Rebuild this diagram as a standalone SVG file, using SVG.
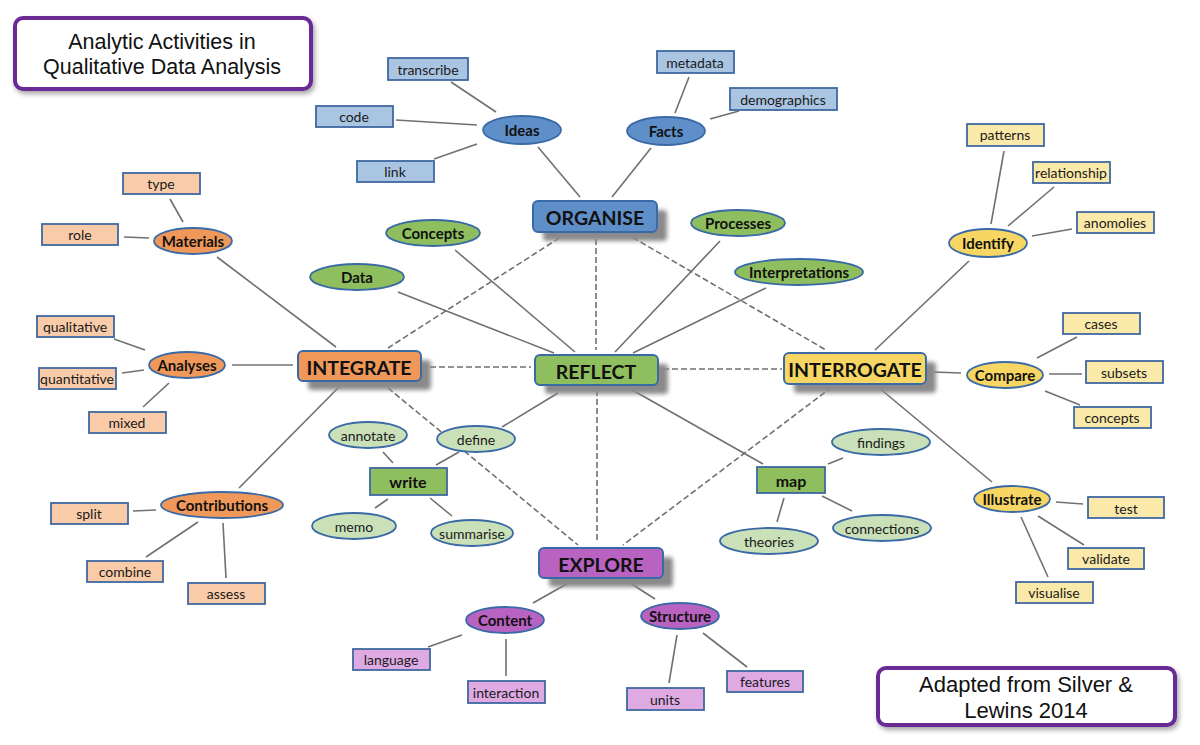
<svg xmlns="http://www.w3.org/2000/svg" width="1200" height="745" viewBox="0 0 1200 745">
<defs>
<filter id="sh" x="-20%" y="-40%" width="140%" height="180%"><feGaussianBlur stdDeviation="2"/></filter>
<filter id="bs" x="-10%" y="-30%" width="120%" height="160%"><feDropShadow dx="2" dy="3" stdDeviation="2.5" flood-color="#000" flood-opacity="0.35"/></filter>
</defs>
<style>
text{font-family:Lato,"Open Sans","Liberation Sans",sans-serif;text-anchor:middle;dominant-baseline:central;fill:#1a1a1a}
.main{font-size:19.5px;font-weight:bold;fill:#111}
.el{font-size:15px;font-weight:bold;fill:#111}
.sm{font-size:14px}
.act{font-size:16px;font-weight:bold;fill:#111}
.ttl{font-family:"Liberation Sans",Arial,sans-serif;font-size:21.5px;dominant-baseline:auto;fill:#111}
.ttl2{font-family:"Liberation Sans",Arial,sans-serif;font-size:22px;dominant-baseline:auto;fill:#111}
.shd{fill:#8a8a8a;filter:url(#sh)}
.mr{stroke:#3a6aa6;stroke-width:2}
.e{stroke:#3a6aa6;stroke-width:1.8}
.r{stroke:#3f68a0;stroke-width:1.8}
.blue{fill:#5f8fc8}.lblue{fill:#a9c5e2}
.or{fill:#f0985a}.lor{fill:#f9cba8}
.gr{fill:#8fbe5e}.lgr{fill:#c9e0b8}
.ye{fill:#f7d663}.lye{fill:#fbe9a9}
.pu{fill:#b863c1}.lpu{fill:#dfaae2}
#connectors line{stroke:#707070;stroke-width:1.6}
#connectors .d{stroke-dasharray:6 3}
.box{fill:#fff;stroke:#6a2a96;stroke-width:4}
</style>

<g id="connectors">
<line x1="451" y1="82" x2="496" y2="112"/>
<line x1="396" y1="120" x2="477" y2="125"/>
<line x1="434" y1="159" x2="477" y2="144"/>
<line x1="538" y1="147" x2="580" y2="197"/>
<line x1="689" y1="77" x2="675" y2="113"/>
<line x1="739" y1="111" x2="710" y2="119"/>
<line x1="651" y1="148" x2="612" y2="197"/>
<line x1="455" y1="250" x2="575" y2="352"/>
<line x1="398" y1="292" x2="554" y2="353"/>
<line x1="720" y1="241" x2="615" y2="352"/>
<line x1="766" y1="288" x2="633" y2="353"/>
<line x1="170" y1="199" x2="183" y2="222"/>
<line x1="124" y1="237" x2="149" y2="238"/>
<line x1="217" y1="257" x2="336" y2="347"/>
<line x1="1004" y1="151" x2="991" y2="224"/>
<line x1="1054" y1="187" x2="1008" y2="226"/>
<line x1="1072" y1="229" x2="1032" y2="236"/>
<line x1="969" y1="261" x2="875" y2="350"/>
<line x1="114" y1="339" x2="145" y2="350"/>
<line x1="122" y1="373" x2="144" y2="370"/>
<line x1="143" y1="407" x2="169" y2="383"/>
<line x1="232" y1="365" x2="293" y2="365"/>
<line x1="342" y1="384" x2="239" y2="488"/>
<line x1="133" y1="511" x2="156" y2="510"/>
<line x1="146" y1="557" x2="198" y2="522"/>
<line x1="226" y1="578" x2="223" y2="523"/>
<line x1="933" y1="372" x2="961" y2="373"/>
<line x1="1037" y1="358" x2="1077" y2="337"/>
<line x1="1049" y1="374" x2="1082" y2="374"/>
<line x1="1045" y1="391" x2="1080" y2="405"/>
<line x1="878" y1="387" x2="992" y2="482"/>
<line x1="1056" y1="502" x2="1083" y2="504"/>
<line x1="1038" y1="516" x2="1084" y2="545"/>
<line x1="1021" y1="517" x2="1048" y2="577"/>
<line x1="558" y1="393" x2="502" y2="427"/>
<line x1="383" y1="452" x2="393" y2="463"/>
<line x1="459" y1="452" x2="436" y2="465"/>
<line x1="388" y1="499" x2="375" y2="508"/>
<line x1="430" y1="498" x2="452" y2="516"/>
<line x1="627" y1="387" x2="763" y2="464"/>
<line x1="828" y1="464" x2="843" y2="458"/>
<line x1="784" y1="498" x2="777" y2="522"/>
<line x1="822" y1="496" x2="852" y2="511"/>
<line x1="572" y1="581" x2="533" y2="603"/>
<line x1="627" y1="581" x2="655" y2="599"/>
<line x1="462" y1="635" x2="428" y2="647"/>
<line x1="506" y1="639" x2="506" y2="676"/>
<line x1="677" y1="635" x2="669" y2="683"/>
<line x1="703" y1="633" x2="747" y2="667"/>
<line class="d" x1="567" y1="233" x2="388" y2="348"/>
<line class="d" x1="596" y1="239" x2="596" y2="350"/>
<line class="d" x1="625" y1="233" x2="826" y2="350"/>
<line class="d" x1="430" y1="367" x2="531" y2="367"/>
<line class="d" x1="663" y1="369" x2="782" y2="369"/>
<line class="d" x1="388" y1="388" x2="578" y2="545"/>
<line class="d" x1="597" y1="390" x2="597" y2="543"/>
<line class="d" x1="832" y1="387" x2="623" y2="545"/>
</g>

<g id="title"><rect class="box" x="15" y="18" width="296" height="71" rx="8" filter="url(#bs)"/><text class="ttl" x="162" y="49">Analytic Activities in</text><text class="ttl" x="162" y="74">Qualitative Data Analysis</text></g>
<g id="credit"><rect class="box" x="878" y="668" width="297" height="57" rx="8" filter="url(#bs)"/><text class="ttl2" x="1026" y="692">Adapted from Silver &amp;</text><text class="ttl2" x="1026" y="718">Lewins 2014</text></g>

<!-- main nodes -->
<g id="organise"><rect class="shd" x="543" y="210" width="124" height="31" rx="4"/><rect class="mr blue" x="533" y="201" width="124" height="31" rx="5"/><text class="main" x="595" y="217">ORGANISE</text></g>
<g id="reflect"><rect class="shd" x="545" y="364" width="123" height="30" rx="4"/><rect class="mr gr" x="535" y="355" width="123" height="30" rx="5"/><text class="main" x="596" y="371">REFLECT</text></g>
<g id="integrate"><rect class="shd" x="308" y="360" width="123" height="30" rx="4"/><rect class="mr or" x="298" y="351" width="123" height="30" rx="5"/><text class="main" x="359" y="367">INTEGRATE</text></g>
<g id="interrogate"><rect class="shd" x="794" y="362" width="142" height="31" rx="4"/><rect class="mr ye" x="784" y="353" width="142" height="31" rx="5"/><text class="main" x="855" y="369">INTERROGATE</text></g>
<g id="explore"><rect class="shd" x="549" y="557" width="124" height="30" rx="4"/><rect class="mr pu" x="539" y="548" width="124" height="30" rx="5"/><text class="main" x="601" y="564">EXPLORE</text></g>

<!-- organise branch -->
<g id="ideas"><ellipse class="e blue" cx="522" cy="130" rx="39" ry="14"/><text class="el" x="522" y="130">Ideas</text></g>
<g id="facts"><ellipse class="e blue" cx="666" cy="131" rx="39" ry="14"/><text class="el" x="666" y="131">Facts</text></g>
<g id="transcribe"><rect class="r lblue" x="388" y="58" width="80" height="22"/><text class="sm" x="428" y="69">transcribe</text></g>
<g id="code"><rect class="r lblue" x="316" y="106" width="77" height="21"/><text class="sm" x="354" y="116">code</text></g>
<g id="link"><rect class="r lblue" x="357" y="161" width="77" height="21"/><text class="sm" x="395" y="171">link</text></g>
<g id="metadata"><rect class="r lblue" x="657" y="51" width="77" height="22"/><text class="sm" x="695" y="62">metadata</text></g>
<g id="demographics"><rect class="r lblue" x="730" y="88" width="107" height="22"/><text class="sm" x="783" y="99">demographics</text></g>

<!-- reflect branch -->
<g id="concepts-r"><ellipse class="e gr" cx="433" cy="233" rx="47" ry="13"/><text class="el" x="433" y="233">Concepts</text></g>
<g id="processes"><ellipse class="e gr" cx="738" cy="223" rx="47" ry="13"/><text class="el" x="738" y="223">Processes</text></g>
<g id="data"><ellipse class="e gr" cx="357" cy="277" rx="47" ry="13"/><text class="el" x="357" y="277">Data</text></g>
<g id="interpretations"><ellipse class="e gr" cx="799" cy="272" rx="64" ry="13"/><text class="el" x="799" y="272">Interpretations</text></g>

<!-- integrate branch -->
<g id="materials"><ellipse class="e or" cx="193" cy="241" rx="39" ry="13"/><text class="el" x="193" y="241">Materials</text></g>
<g id="type"><rect class="r lor" x="123" y="173" width="77" height="21"/><text class="sm" x="161" y="183">type</text></g>
<g id="role"><rect class="r lor" x="42" y="224" width="76" height="21"/><text class="sm" x="80" y="234">role</text></g>
<g id="analyses"><ellipse class="e or" cx="187" cy="365" rx="38" ry="13"/><text class="el" x="187" y="365">Analyses</text></g>
<g id="qualitative"><rect class="r lor" x="37" y="316" width="77" height="21"/><text class="sm" x="75" y="326">qualitative</text></g>
<g id="quantitative"><rect class="r lor" x="39" y="368" width="77" height="21"/><text class="sm" x="77" y="378">quantitative</text></g>
<g id="mixed"><rect class="r lor" x="89" y="412" width="77" height="21"/><text class="sm" x="127" y="422">mixed</text></g>
<g id="contributions"><ellipse class="e or" cx="222" cy="505" rx="61" ry="13"/><text class="el" x="222" y="505">Contributions</text></g>
<g id="split"><rect class="r lor" x="51" y="503" width="77" height="21"/><text class="sm" x="89" y="513">split</text></g>
<g id="combine"><rect class="r lor" x="87" y="561" width="76" height="21"/><text class="sm" x="125" y="571">combine</text></g>
<g id="assess"><rect class="r lor" x="188" y="583" width="77" height="21"/><text class="sm" x="226" y="593">assess</text></g>

<!-- interrogate branch -->
<g id="identify"><ellipse class="e ye" cx="988" cy="243" rx="39" ry="14"/><text class="el" x="988" y="243">Identify</text></g>
<g id="patterns"><rect class="r lye" x="967" y="124" width="77" height="22"/><text class="sm" x="1005" y="134">patterns</text></g>
<g id="relationship"><rect class="r lye" x="1033" y="162" width="77" height="21"/><text class="sm" x="1071" y="172">relationship</text></g>
<g id="anomolies"><rect class="r lye" x="1077" y="212" width="77" height="21"/><text class="sm" x="1115" y="222">anomolies</text></g>
<g id="compare"><ellipse class="e ye" cx="1005" cy="375" rx="38" ry="13"/><text class="el" x="1005" y="375">Compare</text></g>
<g id="cases"><rect class="r lye" x="1063" y="313" width="77" height="21"/><text class="sm" x="1101" y="323">cases</text></g>
<g id="subsets"><rect class="r lye" x="1086" y="361" width="77" height="22"/><text class="sm" x="1124" y="372">subsets</text></g>
<g id="concepts-i"><rect class="r lye" x="1074" y="407" width="77" height="21"/><text class="sm" x="1112" y="417">concepts</text></g>
<g id="illustrate"><ellipse class="e ye" cx="1012" cy="499" rx="38" ry="13"/><text class="el" x="1012" y="499">Illustrate</text></g>
<g id="test"><rect class="r lye" x="1088" y="497" width="76" height="21"/><text class="sm" x="1126" y="508">test</text></g>
<g id="validate"><rect class="r lye" x="1068" y="548" width="76" height="21"/><text class="sm" x="1106" y="558">validate</text></g>
<g id="visualise"><rect class="r lye" x="1016" y="582" width="77" height="21"/><text class="sm" x="1054" y="592">visualise</text></g>

<!-- write / map -->
<g id="annotate"><ellipse class="e lgr" cx="368" cy="435" rx="39" ry="13"/><text class="sm" x="368" y="435">annotate</text></g>
<g id="define"><ellipse class="e lgr" cx="476" cy="439" rx="39" ry="13"/><text class="sm" x="476" y="439">define</text></g>
<g id="write"><rect class="r gr" x="370" y="468" width="77" height="27"/><text class="act" x="408" y="481">write</text></g>
<g id="memo"><ellipse class="e lgr" cx="354" cy="526" rx="42" ry="13"/><text class="sm" x="354" y="526">memo</text></g>
<g id="summarise"><ellipse class="e lgr" cx="472" cy="533" rx="41" ry="13"/><text class="sm" x="472" y="533">summarise</text></g>
<g id="findings"><ellipse class="e lgr" cx="881" cy="442" rx="49" ry="13"/><text class="sm" x="881" y="442">findings</text></g>
<g id="map"><rect class="r gr" x="757" y="467" width="68" height="26"/><text class="act" x="791" y="480">map</text></g>
<g id="theories"><ellipse class="e lgr" cx="769" cy="541" rx="49" ry="13"/><text class="sm" x="769" y="541">theories</text></g>
<g id="connections"><ellipse class="e lgr" cx="882" cy="528" rx="49" ry="13"/><text class="sm" x="882" y="528">connections</text></g>

<!-- explore branch -->
<g id="content"><ellipse class="e pu" cx="505" cy="620" rx="39" ry="13"/><text class="el" x="505" y="620">Content</text></g>
<g id="structure"><ellipse class="e pu" cx="680" cy="616" rx="39" ry="13"/><text class="el" x="680" y="616">Structure</text></g>
<g id="language"><rect class="r lpu" x="353" y="649" width="77" height="21"/><text class="sm" x="391" y="659">language</text></g>
<g id="interaction"><rect class="r lpu" x="468" y="681" width="77" height="22"/><text class="sm" x="506" y="692">interaction</text></g>
<g id="units"><rect class="r lpu" x="627" y="688" width="77" height="22"/><text class="sm" x="665" y="699">units</text></g>
<g id="features"><rect class="r lpu" x="727" y="671" width="76" height="21"/><text class="sm" x="765" y="681">features</text></g>
</svg>
